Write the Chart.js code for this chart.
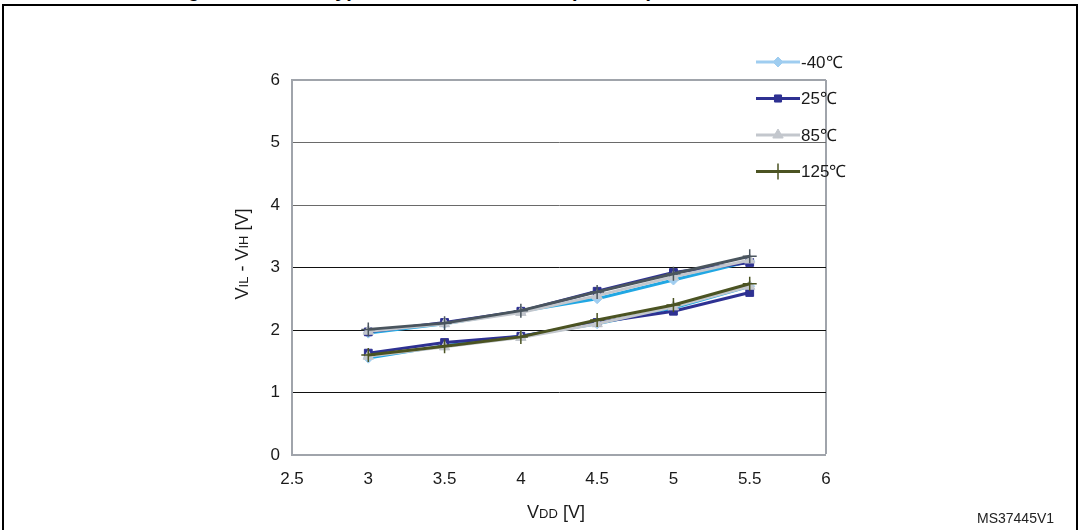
<!DOCTYPE html>
<html>
<head>
<meta charset="utf-8">
<script src="https://cdn.jsdelivr.net/npm/chart.js@4.4.1/dist/chart.umd.min.js"></script>
<style>
  html, body { margin: 0; padding: 0; background: #fff; }
  #wrap { position: relative; width: 1084px; height: 530px; overflow: hidden; background: #fff; }
  #frame { position: absolute; left: 2px; top: 4px; width: 1076px; height: 540px; border: 2px solid #000; box-sizing: border-box; background: transparent; }
  #title { position: absolute; left: 170px; top: -22px; height: 26px; overflow: hidden; font: bold 20px 'Liberation Sans', Arial, sans-serif; line-height: 24px; color: #000; white-space: nowrap; }
  #title .s { font-size: 14px; }
  #title .gap { display: inline-block; width: 60px; }
  #cv { position: absolute; left: 0; top: 0; }
  #tag { position: absolute; left: 977px; top: 510px; font: 14px 'Liberation Sans', Arial, sans-serif; color: #222; }
</style>
</head>
<body>
<div id="wrap">
  <div id="title">Figure 26.<span class="gap"></span>Typical V<span class="s">IL</span> and V<span class="s">IH</span> vs V<span class="s">DD</span> (TC I/Os)</div>
  <canvas id="cv" width="1084" height="530"></canvas>
  <div id="frame"></div>
  <div id="tag">MS37445V1</div>
</div>
<script>
// ---- data ----
const vdd = [3, 3.5, 4, 4.5, 5, 5.5];
const vihM40 = [1.95, 2.10, 2.30, 2.50, 2.80, 3.10];
const vilM40 = [1.55, 1.75, 1.90, 2.10, 2.35, 2.70];
const vih25  = [1.97, 2.12, 2.30, 2.62, 2.92, 3.08];
const vil25  = [1.63, 1.80, 1.90, 2.12, 2.30, 2.60];
const vih85  = [1.98, 2.10, 2.28, 2.55, 2.85, 3.12];
const vil85  = [1.58, 1.73, 1.88, 2.10, 2.37, 2.70];
const vih125 = [2.01, 2.11, 2.31, 2.61, 2.90, 3.18];
const vil125 = [1.60, 1.74, 1.89, 2.16, 2.40, 2.74];
const legendLabels = ['-40\u2103', '25\u2103', '85\u2103', '125\u2103'];
const xTicks = [2.5, 3, 3.5, 4, 4.5, 5, 5.5, 6];
const yTicks = [0, 1, 2, 3, 4, 5, 6];

const pts = arr => arr.map((v, i) => ({ x: vdd[i], y: v }));

const C_M40_LINE = '#21a7e3', C_M40 = '#9fcdf0';
const C_25 = '#2e3192';
const C_85 = '#c3c7cd';
const C_125_HI = '#4a555e', C_125_LO = '#4b5322';

function ds(data, line, mark, style, radius, bw) {
  return {
    data: pts(data), borderColor: line, backgroundColor: mark,
    pointBackgroundColor: mark, pointBorderColor: mark,
    pointStyle: style, pointRadius: radius, pointBorderWidth: bw || 1,
    borderWidth: 3, tension: 0, fill: false
  };
}

// dataset 0 is drawn on top
const datasets = [
  ds(vih125, C_125_HI, C_125_HI, 'cross', 7, 1.5),
  ds(vil125, C_125_LO, C_125_LO, 'cross', 7, 1.5),
  ds(vih85, C_85, C_85, 'triangle', 6),
  ds(vil85, C_85, C_85, 'triangle', 6),
  ds(vih25, C_25, C_25, 'rect', 5.5),
  ds(vil25, C_25, C_25, 'rect', 5.5),
  ds(vihM40, C_M40_LINE, C_M40, 'rectRot', 5),
  ds(vilM40, C_M40_LINE, C_M40, 'rectRot', 5)
];

const NARROW = "'Liberation Sans Narrow', 'Liberation Sans', Arial, sans-serif";
const REG = "'Liberation Sans', Arial, sans-serif";

const legendItems = [
  { label: legendLabels[0], color: C_M40, style: 'rectRot', r: 5 },
  { label: legendLabels[1], color: C_25, style: 'rect', r: 5 },
  { label: legendLabels[2], color: C_85, style: 'triangle', r: 6 },
  { label: legendLabels[3], color: C_125_LO, style: 'cross', r: 8 }
];

const decor = {
  id: 'decor',
  afterDraw(chart) {
    const ctx = chart.ctx;
    const ca = chart.chartArea;
    ctx.save();
    // legend
    const lx0 = 756, lx1 = 800, ly0 = 62, step = 36.5;
    legendItems.forEach((it, i) => {
      const y = ly0 + i * step;
      ctx.strokeStyle = it.color; ctx.lineWidth = 3;
      ctx.beginPath(); ctx.moveTo(lx0, y); ctx.lineTo(lx1, y); ctx.stroke();
      ctx.fillStyle = it.color; ctx.strokeStyle = it.color;
      ctx.lineWidth = it.style === 'cross' ? 1.5 : 1;
      Chart.helpers.drawPoint(ctx, { pointStyle: it.style, radius: it.r, borderWidth: ctx.lineWidth, rotation: 0 }, (lx0 + lx1) / 2, y);
      ctx.fillStyle = '#1a1a1a';
      ctx.font = '17px ' + NARROW;
      ctx.textAlign = 'left'; ctx.textBaseline = 'middle';
      ctx.fillText(it.label, lx1 + 1, y + 1);
    });
    // axis titles with subscripts
    function drawSub(parts, cx, cy, rotate) {
      ctx.save();
      ctx.translate(cx, cy);
      if (rotate) ctx.rotate(-Math.PI / 2);
      ctx.fillStyle = '#1a1a1a';
      ctx.textBaseline = 'alphabetic';
      ctx.textAlign = 'left';
      let w = 0;
      parts.forEach(p => { ctx.font = p[1] + 'px ' + REG; w += ctx.measureText(p[0]).width; });
      let x = -w / 2;
      parts.forEach(p => { ctx.font = p[1] + 'px ' + REG; ctx.fillText(p[0], x, 6); x += ctx.measureText(p[0]).width; });
      ctx.restore();
    }
    drawSub([['V', 18], ['DD', 13], [' [V]', 18]], (ca.left + ca.right) / 2 - 3, 512, false);
    drawSub([['V', 18], ['IL', 13], [' - V', 18], ['IH', 13], [' [V]', 18]], 242, 254, true);
    ctx.restore();
  }
};

new Chart(document.getElementById('cv'), {
  type: 'line',
  data: { datasets },
  plugins: [decor],
  options: {
    responsive: false,
    animation: false,
    devicePixelRatio: 1,
    layout: { padding: { left: 0, right: 258, top: 80, bottom: 0 } },
    plugins: { legend: { display: false }, tooltip: { enabled: false }, title: { display: false } },
    scales: {
      x: {
        type: 'linear', min: 2.5, max: 6,
        afterBuildTicks: s => { s.ticks = xTicks.map(v => ({ value: v })); },
        afterFit: s => { s.height = 75; },
        ticks: { padding: 14, color: '#1a1a1a', font: { family: NARROW, size: 17 }, callback: v => String(v) },
        grid: {
          drawTicks: false,
          color: c => (c.tick && c.tick.value === 6 ? '#a0a4ab' : 'rgba(0,0,0,0)'),
          lineWidth: c => (c.tick && c.tick.value === 6 ? 2 : 0)
        },
        border: { display: true, color: '#a0a4ab', width: 2 }
      },
      y: {
        type: 'linear', min: 0, max: 6,
        afterBuildTicks: s => { s.ticks = yTicks.map(v => ({ value: v })); },
        afterFit: s => { s.width = 292; },
        ticks: { padding: 12, color: '#1a1a1a', font: { family: NARROW, size: 17 }, callback: v => String(v) },
        grid: {
          drawTicks: false,
          color: c => {
            const v = c.tick ? c.tick.value : -1;
            if (v === 6) return '#a0a4ab';
            if (v === 0) return 'rgba(0,0,0,0)';
            if (v >= 4) return '#6a6a6a';
            return '#111111';
          },
          lineWidth: c => (c.tick && c.tick.value === 6 ? 2 : 1)
        },
        border: { display: true, color: '#a0a4ab', width: 2 }
      }
    }
  }
});
</script>
</body>
</html>
